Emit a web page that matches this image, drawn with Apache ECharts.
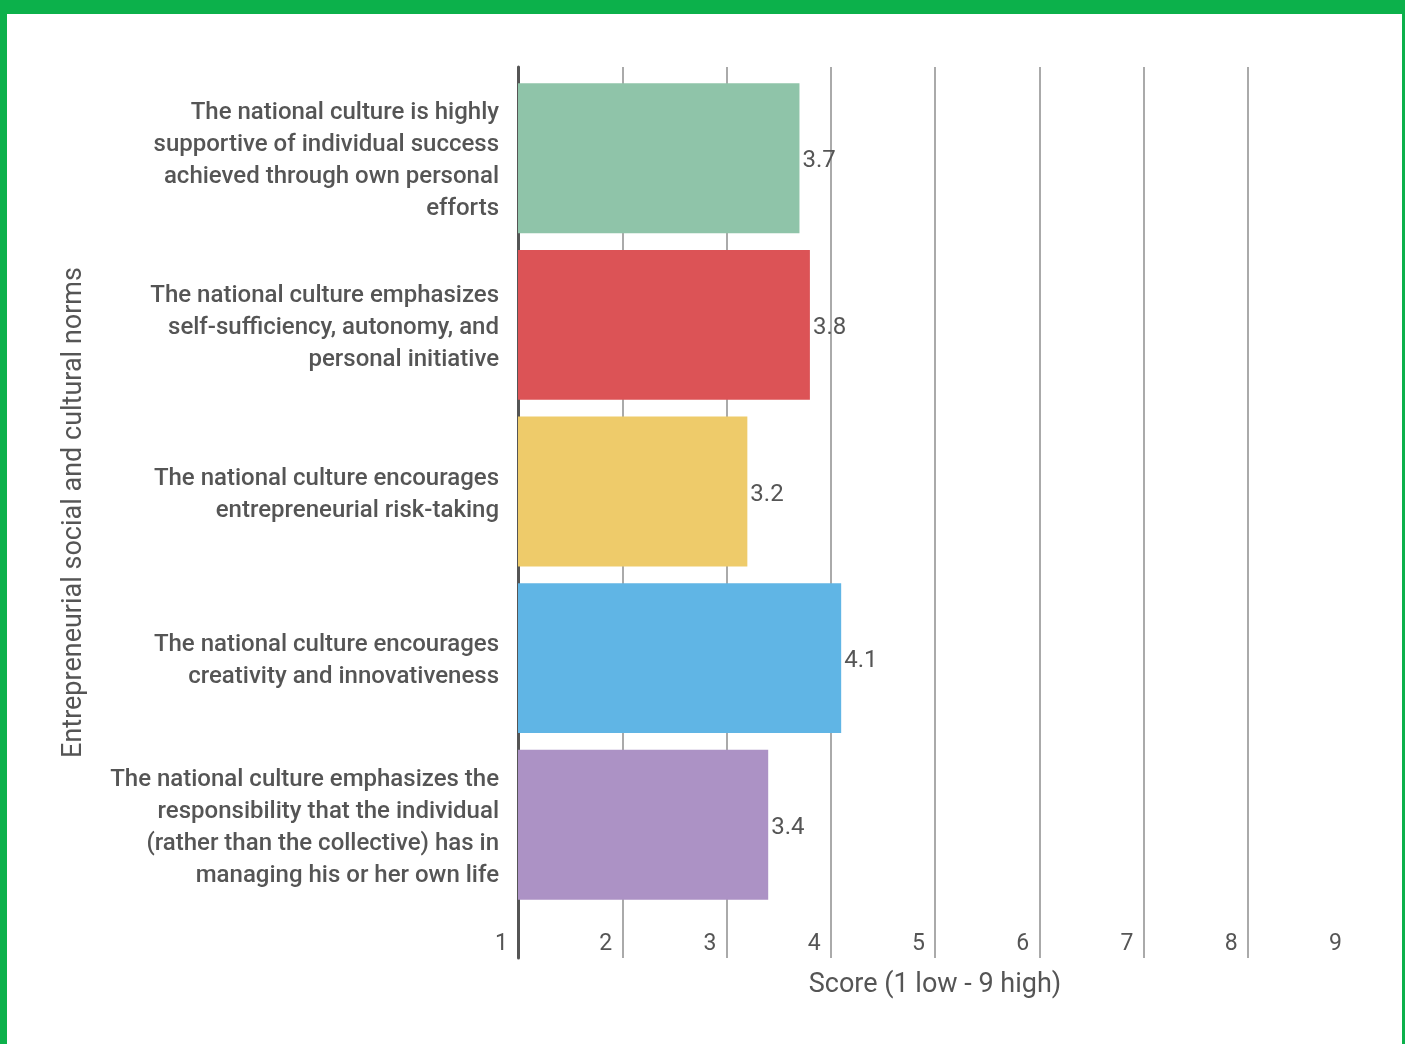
<!DOCTYPE html>
<html>
<head>
<meta charset="utf-8">
<script src="https://cdn.jsdelivr.net/npm/echarts@6/dist/echarts.min.js"></script>
<style>
  html, body { margin: 0; padding: 0; background: #fff; }
  #chart { position: absolute; left: 0; top: 0; width: 1405px; height: 1044px; }
  .frame { position: absolute; background: #0cb14b; }
</style>
</head>
<body>
<div id="chart"></div>
<div class="frame" style="left:0;top:0;width:1405px;height:14px;"></div>
<div class="frame" style="left:0;top:0;width:7px;height:1044px;"></div>
<div class="frame" style="left:1402px;top:0;width:3px;height:1044px;"></div>
<script>
// Entrepreneurial social and cultural norms, scored 1 (low) to 9 (high)
const categories = [
  'The national culture is highly\nsupportive of individual success\nachieved through own personal\nefforts',
  'The national culture emphasizes\nself-sufficiency, autonomy, and\npersonal initiative',
  'The national culture encourages\nentrepreneurial risk-taking',
  'The national culture encourages\ncreativity and innovativeness',
  'The national culture emphasizes the\nresponsibility that the individual\n(rather than the collective) has in\nmanaging his or her own life'
];
const scores = [3.7, 3.8, 3.2, 4.1, 3.4];
const barColors = ['#8fc4a9', '#dc5356', '#eecb6a', '#60b5e5', '#ac92c5'];
const scoreTicks = [1, 2, 3, 4, 5, 6, 7, 8, 9];
const xAxisTitle = 'Score (1 low - 9 high)';
const yAxisTitle = 'Entrepreneurial social and cultural norms';

const FONT = 'Roboto';
const TEXT = '#555555';

const chart = echarts.init(document.getElementById('chart'), null, { renderer: 'canvas' });

chart.setOption({
  animation: false,
  textStyle: { fontFamily: FONT },
  grid: [
    // frame grid: gridlines, tick labels, axis titles
    { left: 518, right: 53, top: 67, bottom: 86 },
    // bar grid
    { left: 518, right: 53, top: 75, bottom: 136 },
    // category label grid (same bands, text sits a touch lower)
    { left: 518, right: 53, top: 78, bottom: 133 }
  ],
  xAxis: [
    {
      gridIndex: 0,
      type: 'value',
      min: scoreTicks[0],
      max: scoreTicks[scoreTicks.length - 1],
      interval: 1,
      axisLine: { show: false },
      axisTick: { show: false },
      splitLine: { show: true, showMinLine: false, showMaxLine: false, lineStyle: { color: '#aaaaaa', width: 2 } },
      axisLabel: {
        inside: true,
        margin: 2,
        align: 'right',
        padding: [0, 10, 0, 0],
        fontFamily: FONT,
        fontSize: 23,
        color: TEXT
      },
      name: xAxisTitle,
      nameLocation: 'middle',
      nameGap: 14,
      nameTextStyle: { fontFamily: FONT, fontSize: 27, color: TEXT, verticalAlign: 'top' }
    },
    {
      gridIndex: 1,
      type: 'value',
      min: scoreTicks[0],
      max: scoreTicks[scoreTicks.length - 1],
      show: false,
      splitLine: { show: false }
    },
    {
      gridIndex: 2,
      type: 'value',
      min: scoreTicks[0],
      max: scoreTicks[scoreTicks.length - 1],
      show: false,
      splitLine: { show: false }
    }
  ],
  yAxis: [
    {
      gridIndex: 0,
      type: 'category',
      data: [''],
      axisLine: { show: true, lineStyle: { color: '#555555', width: 3 } },
      axisTick: { show: false },
      axisLabel: { show: false },
      name: yAxisTitle,
      nameLocation: 'middle',
      nameGap: 430,
      nameRotate: 90,
      nameTextStyle: { fontFamily: FONT, fontSize: 27, color: TEXT }
    },
    {
      gridIndex: 1,
      type: 'category',
      inverse: true,
      data: categories,
      show: false
    },
    {
      gridIndex: 2,
      type: 'category',
      inverse: true,
      data: categories,
      axisLine: { show: false },
      axisTick: { show: false },
      splitLine: { show: false },
      axisLabel: {
        margin: 19,
        fontFamily: FONT,
        fontSize: 24,
        fontWeight: 500,
        lineHeight: 32,
        color: TEXT,
        align: 'right'
      }
    }
  ],
  series: [
    {
      type: 'bar',
      xAxisIndex: 1,
      yAxisIndex: 1,
      barCategoryGap: '10%',
      data: scores.map((v, i) => ({ value: v, itemStyle: { color: barColors[i] } })),
      label: {
        show: true,
        position: 'right',
        distance: 3,
        offset: [0, 3],
        fontFamily: FONT,
        fontSize: 24,
        color: TEXT,
        formatter: p => p.value.toFixed(1)
      }
    }
  ]
});
</script>
</body>
</html>
